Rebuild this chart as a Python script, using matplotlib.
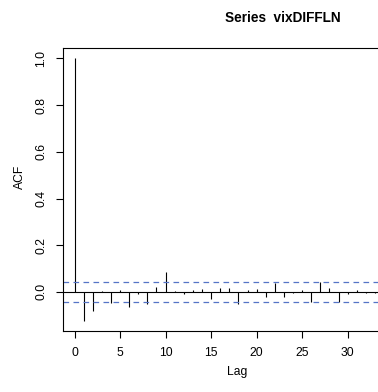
import numpy as np
import matplotlib
matplotlib.use("Agg")
import matplotlib.pyplot as plt

plt.rcParams['font.family'] = ['Liberation Sans', 'DejaVu Sans']

# autocorrelation of the differenced log series, lags 0..33
lags = np.arange(34)
acf = [1.000, -0.124, -0.081, 0.004, -0.046, 0.007, -0.064, -0.009,
       -0.054, 0.020, 0.086, 0.004, -0.011, 0.010, 0.014, -0.029,
       0.016, 0.016, -0.054, 0.010, 0.014, -0.020, 0.040, -0.020,
       -0.006, 0.010, -0.043, 0.041, 0.016, -0.043, -0.011, 0.010,
       -0.006, -0.003]
ci = 0.0428
xticks = [0, 5, 10, 15, 20, 25, 30]
yticks = [0.0, 0.2, 0.4, 0.6, 0.8, 1.0]

W, H = 378, 392
fig = plt.figure(figsize=(W / 100, H / 100), dpi=100)
# plot region in pixels: left 62.5, right 387 (past the edge), top 48, bottom 331.3
ax = fig.add_axes([62.5 / W, 1 - 331.3 / H, (387 - 62.5) / W, (331.3 - 48) / H])

ax.vlines(lags, 0, acf, color='black', lw=0.8)
ax.axhline(0, color='black', lw=0.8)
for c in (ci, -ci):
    ax.axhline(c, color='#5574c6', lw=0.9, ls=(0, (4.5, 3.5)))

# R-style 4% padding around the data range
nmax = lags.max()
ax.set_xlim(-0.04 * nmax, 1.04 * nmax)
lo = min(min(acf), -ci)
hi = max(max(acf), ci)
r = hi - lo
ax.set_ylim(lo - 0.04 * r, hi + 0.04 * r)

ax.set_xticks(xticks)
ax.set_yticks(yticks)
ax.set_yticklabels(['%.1f' % v for v in yticks], rotation=90, va='center')
ax.tick_params(direction='out', length=5, width=0.8, labelsize=8.7, colors='black')
ax.tick_params(axis='x', pad=6.5)
ax.tick_params(axis='y', pad=6.0)
for s in ax.spines.values():
    s.set_linewidth(0.8)

ax.set_xlabel('Lag', fontsize=8.7, va='center')
ax.xaxis.set_label_coords((236.7 - 62.5) / 324.5, (331.3 - 372) / 283.3)
ax.set_ylabel('ACF', fontsize=8.7, va='center')
ax.yaxis.set_label_coords((20 - 62.5) / 324.5, (331.3 - 177) / 283.3)

fig.text(283 / W, 1 - 18 / H, 'Series  vixDIFFLN', fontsize=9.8,
         fontweight='bold', ha='center', va='center')

fig.savefig('out.png', dpi=100)
